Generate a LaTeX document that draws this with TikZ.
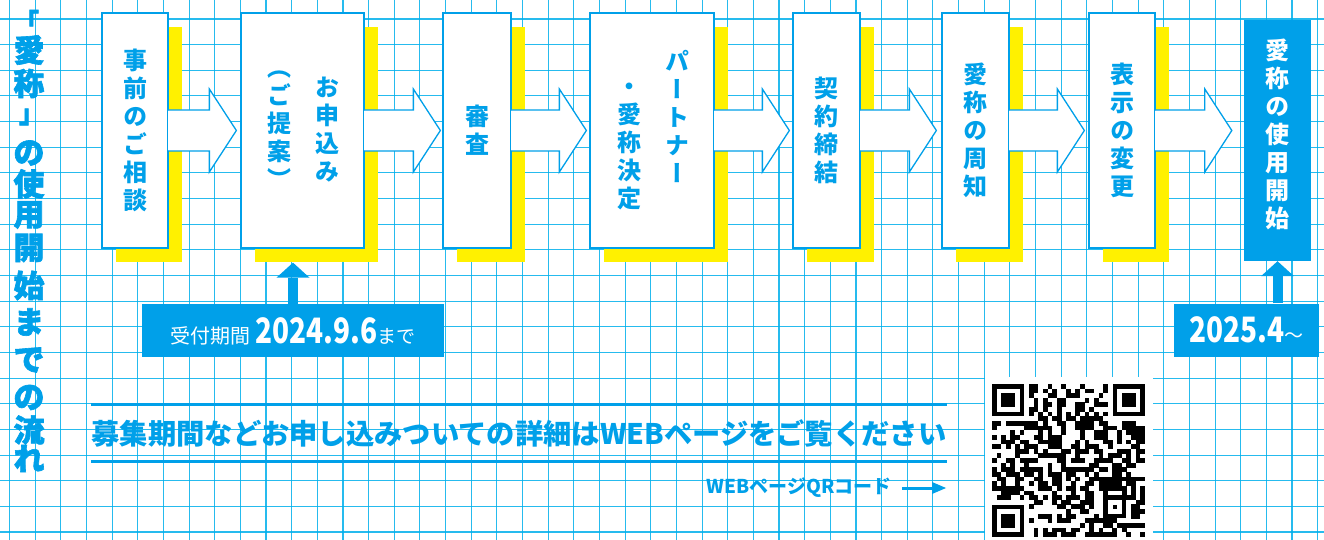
\documentclass[tikz,border=0pt]{standalone}
\usepackage{fontspec}
\usepackage{graphicx}
\newfontfamily\jp{Noto Sans CJK JP}
\newfontfamily\jpvert{Noto Sans CJK JP}[RawFeature=+vert]
\newfontfamily\jpheavy{Noto Sans CJK JP}[FakeBold=2]
\usetikzlibrary{positioning}
\usetikzlibrary{arrows.meta,calc,shadows}
\definecolor{flowblue}{RGB}{0,160,233}
\definecolor{gridblue}{RGB}{0,176,236}
\definecolor{markyellow}{RGB}{255,241,0}
\tikzstyle{every node}=[font=\jp]
\tikzstyle{every path}=[line cap=butt,line join=miter]
\tikzstyle{gridline}=[draw=gridblue,line width=1.1pt,opacity=0.85]
\tikzstyle{stepbox}=[draw=flowblue,line width=1.3pt,fill=white,inner sep=0pt,minimum height=235pt,text=flowblue,align=center,font=\jpvert\bfseries\fontsize{24}{28}\selectfont,drop shadow={shadow xshift=14pt,shadow yshift=-14pt,fill=markyellow,opacity=1}]
\tikzstyle{lastbox}=[fill=flowblue,inner sep=0pt,minimum width=67pt,minimum height=241pt]
\tikzstyle{steplabel}=[inner sep=0pt,text=flowblue,align=center,font=\jpvert\bfseries\fontsize{24}{28}\selectfont]
\tikzstyle{blockarrow}=[draw=flowblue,line width=1.3pt,fill=white]
\tikzstyle{titlechar}=[inner sep=0pt,text=flowblue,font=\jpheavy\bfseries\fontsize{31}{34}\selectfont]
\tikzstyle{bracket}=[inner sep=0pt,text=flowblue,font=\jpheavy\bfseries\fontsize{26}{26}\selectfont]
\tikzstyle{datebox}=[fill=flowblue,text=white,inner sep=0pt,minimum height=53pt,text height=25pt,text depth=0pt]
\tikzstyle{uparrow}=[draw=flowblue,line width=10pt,-{Triangle[width=33pt,length=15pt,line width=0pt]}]
\tikzstyle{note}=[inner sep=0pt,minimum width=854pt,minimum height=56pt,text=flowblue,font=\jp\bfseries\fontsize{28.3}{28.3}\selectfont]
\tikzstyle{rule}=[draw=flowblue,line width=3pt]
\tikzstyle{pointer}=[draw=flowblue,line width=3pt,-{Triangle[width=12pt,length=14pt,line width=0pt]}]

\begin{document}
\begin{tikzpicture}[x=1pt,y=-1pt]
  \useasboundingbox (0,0) rectangle (1324,540);
  \fill[white] (0,0) rectangle (1324,540);
  % grid paper
  \foreach \k in {0,...,51}
    \draw[gridline] ({9.5+25.65*\k},0) -- ({9.5+25.65*\k},540);
  \foreach \k in {0,...,20}
    \draw[gridline] (0,{19+25.65*\k}) -- (1324,{19+25.65*\k});

  % title
  \node[bracket] (tl) at (26,21) {「};
  \foreach \c/\y [count=\n] in {愛/50,称/83.5}
    \node[titlechar] (t\n) at (29,\y) {\c};
  \node[bracket] (tr) at (32,117) {」};
  \foreach \c/\y [count=\n from 3] in {の/153,使/184,用/215,開/248,始/285.5,ま/322,で/360,の/397.5,流/430,れ/458.5}
    \node[titlechar] (t\n) at (29,\y) {\c};

  % steps
  \node[stepbox,minimum width=66pt] (b1) at (135,130.5) {事\\前\\の\\ご\\相\\談};
  \node[stepbox,minimum width=123pt] (b2) at (302.5,130.5) {};
  \node[stepbox,minimum width=68pt] (b3) at (477,130.5) {審\\査};
  \node[stepbox,minimum width=124pt] (b4) at (652,130.5) {};
  \node[stepbox,minimum width=67pt] (b5) at (826.5,130.5) {契\\約\\締\\結};
  \node[stepbox,minimum width=67pt] (b6) at (975.5,130.5) {愛\\称\\の\\周\\知};
  \node[stepbox,minimum width=66pt] (b7) at (1122,130.5) {表\\示\\の\\変\\更};
  \node[lastbox] (b8) at (1277.5,140.5) {};
  \node[steplabel] (b2r) at (327,130) {お\\申\\込\\み};
  \node[steplabel] (b2l) at (279,130) {（\\ご\\提\\案\\）};
  \node[steplabel] (b4r) at (677,116) {パ\\ー\\ト\\ナ\\ー};
  \node[steplabel] (b4l) at (629,146) {・\\愛\\称\\決\\定};
  \node[steplabel,text=white] (b8t) at (1277.5,134.5) {愛\\称\\の\\使\\用\\開\\始};

  \foreach \a/\b/\g in {b1/b2/4,b2/b3/2,b3/b4/3,b4/b5/3,b5/b6/5,b6/b7/4,b7/b8/12}{
    \coordinate (tip) at ($(\a.east -| \b.west)+(-\g,0)$);
    \filldraw[blockarrow] ($(\a.east)+(0,-20.5)$) -- ($(tip)+(-27,-20.5)$)
      -- ($(tip)+(-27,-41.5)$) -- (tip) -- ($(tip)+(-27,41.5)$)
      -- ($(tip)+(-27,20.5)$) -- ($(\a.east)+(0,20.5)$);
    \fill[white] ($(\a.east)+(-1,-19.8)$) rectangle ($(\a.east)+(0.8,19.8)$);
  }

  % dates
  \node[datebox,minimum width=302pt] (d1) at (293,330.5)
    {{\fontsize{20}{20}\selectfont 受付期間}\hspace{5pt}{\bfseries\fontsize{35}{35}\selectfont\scalebox{0.8}[1]{2024.9.6}}{\fontsize{19}{19}\selectfont まで}};
  \node[datebox,minimum width=145pt] (d2) at (1246.5,330)
    {{\bfseries\fontsize{35}{35}\selectfont\scalebox{0.8}[1]{2025.4}}{\fontsize{19}{19}\selectfont ～}};
  \draw[uparrow] (d1.north) -- ($(d1.north |- b2.south)+(0,14)$);
  \draw[uparrow] (d2.north -| b8.south) -- (b8.south);

  % web note
  \node[note] (note) at (519,433) {募集期間などお申し込みついての詳細はWEBページをご覧ください};
  \draw[rule] (note.north west) -- (note.north east);
  \draw[rule] (note.south west) -- (note.south east);
  \node[text=flowblue,font=\jp\bfseries\fontsize{19}{19}\selectfont,inner sep=0pt,anchor=east] (qrlab) at (892,488) {WEBページQRコード};
  \coordinate (qrptr) at (946,488);
  \draw[pointer,shorten <=10pt] (qrlab.east) -- (qrptr);

  % qr code
  \fill[white] (985,377) rectangle (1153,540);
  \begin{scope}[shift={(992,384)},x=4.636pt,y=-4.636pt]
    \pgfmathsetseed{20}
    \foreach \i in {0,...,32}{
      \foreach \j in {0,...,32}{
        \pgfmathtruncatemacro\mark{((\i<8)&&(\j<8))||((\i<8)&&(\j>24))||((\i>24)&&(\j<8))||((\i>23)&&(\i<29)&&(\j>23)&&(\j<29))||(\i==6)||(\j==6) ? 0 : (rnd<0.5)}
        \ifnum\mark=1 \fill (\j-0.02,\i-0.02) rectangle (\j+1.02,\i+1.02); \fi
      }
    }
    \foreach \k in {8,10,...,24}{
      \fill (\k,6) rectangle +(1,1);
      \fill (6,\k) rectangle +(1,1);
    }
    \foreach \p in {(0,0),(26,0),(0,26)}{
      \fill \p rectangle +(7,7);
      \fill[white] \p ++(1,1) rectangle +(5,5);
      \fill \p ++(2,2) rectangle +(3,3);
    }
    \fill (24,24) rectangle +(5,5);
    \fill[white] (25,25) rectangle +(3,3);
    \fill (26,26) rectangle +(1,1);
  \end{scope}
\end{tikzpicture}
\end{document}
